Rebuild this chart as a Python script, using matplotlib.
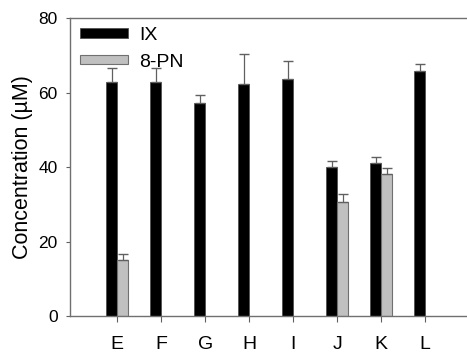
import numpy as np
import matplotlib.pyplot as plt

plt.rcParams['font.family'] = ['Liberation Sans', 'DejaVu Sans']

samples = ['E', 'F', 'G', 'H', 'I', 'J', 'K', 'L']
ix = [62.9, 62.9, 57.1, 62.3, 63.7, 40.1, 41.0, 65.8]
ix_err = [3.8, 3.8, 2.2, 8.0, 4.9, 1.6, 1.7, 1.9]
pn_idx = [0, 5, 6]
pn = [15.0, 30.5, 38.1]
pn_err = [1.8, 2.2, 1.7]

fig = plt.figure(figsize=(4.67, 3.54), dpi=100)
ax = fig.add_axes([0.15, 0.107, 0.85, 0.842])

x = np.arange(len(samples))
w = 0.25
err_kw = dict(ecolor='#606060', elinewidth=0.9, capsize=3.3, capthick=1.0)

ax.bar(x - w / 2, ix, w, color='black', edgecolor='#505050', linewidth=0.6,
       yerr=[np.zeros(len(ix)), ix_err], error_kw=err_kw, label='IX')
ax.bar(np.array(pn_idx) + w / 2, pn, w, color='#c0c0c0', edgecolor='#707070', linewidth=0.8,
       yerr=[np.zeros(len(pn)), pn_err], error_kw=err_kw, label='8-PN')

ax.set_xlim(-1.07, 7.95)
ax.set_ylim(0, 80)
ax.set_xticks(x)
ax.set_xticklabels(samples, fontsize=14)
ax.set_yticks([0, 20, 40, 60, 80])
ax.set_yticklabels(['0', '20', '40', '60', '80'], fontsize=12.5)
ax.tick_params(axis='x', direction='out', length=4, pad=10, color='#606060')
ax.tick_params(axis='y', direction='out', length=3, pad=6, color='#606060')
ax.set_ylabel('Concentration (\u00b5M)', fontsize=15.5, labelpad=4)

for s in ['left', 'bottom', 'top']:
    ax.spines[s].set_color('#707070')
    ax.spines[s].set_linewidth(1.0)
ax.spines['right'].set_visible(False)

ax.legend(loc='upper left', bbox_to_anchor=(0.025, 0.97), frameon=False, fontsize=14,
          handlelength=2.45, handleheight=0.36, handletextpad=0.6, labelspacing=0.5,
          borderaxespad=0, borderpad=0)

fig.savefig('out.png', dpi=100)
